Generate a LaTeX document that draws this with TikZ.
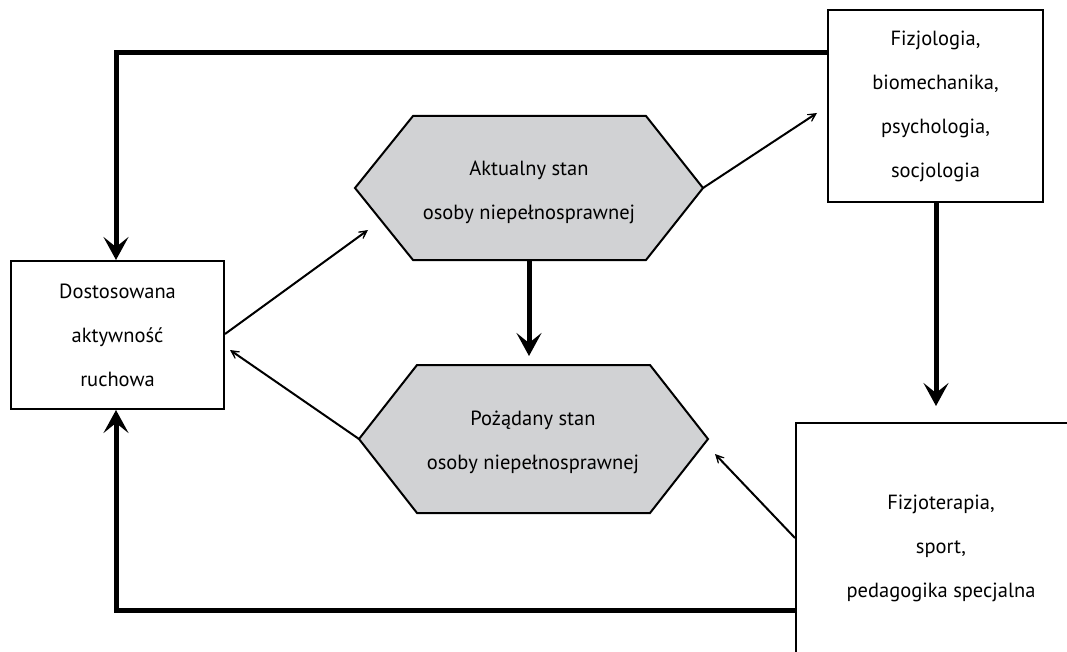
\documentclass[tikz,border=0pt]{standalone}
\usepackage{fontspec}
\setmainfont{PT Sans}
\usetikzlibrary{arrows.meta}
\definecolor{hexgray}{HTML}{D1D2D4}
\tikzset{
  box/.style={draw=black, line width=2pt, fill=white, align=center, font=\fontsize{20.5}{44}\selectfont},
  lbl/.style={align=center, font=\fontsize{20.5}{44}\selectfont},
  hexfill/.style={draw=black, line width=2pt, fill=hexgray, line join=miter},
  thick arrow/.style={line width=5pt, -{Stealth[length=23pt,width=25pt,inset=10pt]}},
  thin arrow/.style={line width=2pt, -{Stealth[length=16pt,width=16pt,inset=12pt]}},
}
\begin{document}
\begin{tikzpicture}[x=1pt,y=-1pt]
\clip (0,0) rectangle (1067,652);
\fill[white] (0,0) rectangle (1067,652);

% boxes
\node[box, minimum width=213pt, minimum height=148pt, inner sep=0pt] (ada) at (117.5,335) {Dostosowana\\aktywność\\ruchowa};
\node[box, minimum width=215pt, minimum height=192pt, inner sep=0pt] (fiz) at (935.5,106) {Fizjologia,\\biomechanika,\\psychologia,\\socjologia};
\node[box, minimum width=290pt, minimum height=250pt, inner sep=0pt] (ter) at (941,548) {Fizjoterapia,\\sport,\\pedagogika specjalna};

% top hexagon
\coordinate (aktW) at (355,188);
\coordinate (aktE) at (703,188);
\filldraw[hexfill] (aktW) -- (413,116) -- (646,116) -- (aktE) -- (646,260) -- (413,260) -- cycle;
\node[lbl] (akt) at (529,192) {Aktualny stan\\osoby niepełnosprawnej};
\coordinate (aktS) at (529,259);

% bottom hexagon
\coordinate (pozW) at (359,439);
\coordinate (pozE) at (708,439);
\filldraw[hexfill] (pozW) -- (417,365) -- (650,365) -- (pozE) -- (650,513) -- (417,513) -- cycle;
\node[lbl] (poz) at (533,442) {Pożądany stan\\osoby niepełnosprawnej};

% thick connectors
\coordinate (tipH) at (529,356);
\draw[thick arrow] (aktS) -- (tipH);
\coordinate (fizW) at (829,53);
\coordinate (corTL) at (116,53);
\draw[thick arrow, line join=miter] (fizW) -- (corTL) -- (ada.north -| corTL);
\coordinate (tipR) at (936,406);
\draw[thick arrow] (fiz.south -| tipR) -- (tipR);
\coordinate (terW) at (797,610);
\coordinate (corBL) at (116,610);
\draw[thick arrow, line join=miter] (terW) -- (corBL) -- (ada.south -| corBL);

% thin connectors
\coordinate (t1) at (368,230);
\draw[thin arrow] (ada.east |- 0,334) -- (t1);
\coordinate (t2) at (817,113);
\draw[thin arrow] (aktE) -- (t2);
\coordinate (t3) at (230,350);
\draw[thin arrow] (pozW) -- (t3);
\coordinate (t4) at (715,454);
\draw[thin arrow] (ter.west |- 0,538) -- (t4);
\end{tikzpicture}
\end{document}
